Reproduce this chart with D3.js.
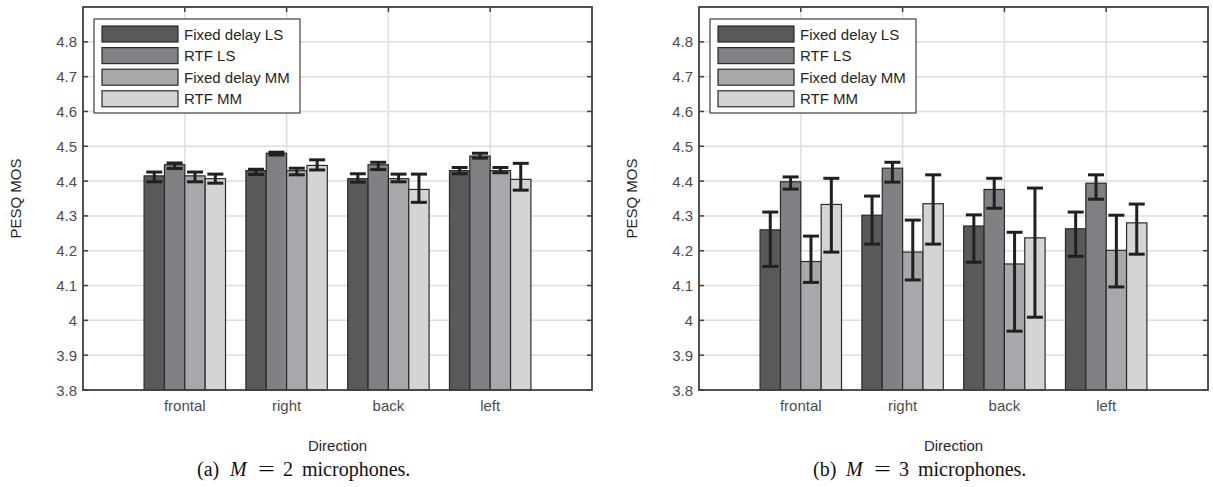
<!DOCTYPE html>
<html lang="en">
<head>
    <meta charset="UTF-8">
    <title>PESQ MOS per direction</title>
    <script src="https://d3js.org/d3.v7.min.js"></script>
    <style>
        body { margin: 0; background: #ffffff; }
        .tick-label { font-family: 'Liberation Sans', Arial, sans-serif; font-size: 15px; fill: #4d4d4d; }
        .axis-title { font-family: 'Liberation Sans', Arial, sans-serif; font-size: 15px; fill: #262626; }
        .legend-text { font-family: 'Liberation Sans', Arial, sans-serif; font-size: 15px; fill: #262626; }
        .caption { font-family: 'Liberation Serif', 'DejaVu Serif', serif; font-size: 20px; fill: #111; }
    </style>
</head>
<body>
<div id="chart"></div>
<script>
    // Data
    const directions = ["frontal", "right", "back", "left"];
    const methods = ["Fixed delay LS", "RTF LS", "Fixed delay MM", "RTF MM"];
    const colors = ["#58595b", "#808184", "#a7a8ab", "#d3d4d6"];
    const yTicks = [3.8, 3.9, 4, 4.1, 4.2, 4.3, 4.4, 4.5, 4.6, 4.7, 4.8];

    // M = 2 microphones: rows = methods, cols = directions
    const meanM2 = [
        [4.415, 4.430, 4.407, 4.430],
        [4.447, 4.480, 4.447, 4.472],
        [4.415, 4.430, 4.407, 4.430],
        [4.407, 4.445, 4.376, 4.405]
    ];
    const lowM2 = [
        [4.398, 4.419, 4.397, 4.421],
        [4.436, 4.475, 4.433, 4.466],
        [4.398, 4.418, 4.398, 4.424],
        [4.394, 4.432, 4.339, 4.374]
    ];
    const highM2 = [
        [4.426, 4.434, 4.421, 4.439],
        [4.452, 4.483, 4.454, 4.480],
        [4.426, 4.437, 4.420, 4.439],
        [4.420, 4.461, 4.420, 4.451]
    ];

    // M = 3 microphones
    const meanM3 = [
        [4.260, 4.302, 4.271, 4.263],
        [4.398, 4.437, 4.376, 4.394],
        [4.169, 4.196, 4.162, 4.201],
        [4.333, 4.335, 4.237, 4.280]
    ];
    const lowM3 = [
        [4.155, 4.219, 4.167, 4.184],
        [4.377, 4.397, 4.322, 4.348],
        [4.109, 4.116, 3.969, 4.096],
        [4.196, 4.219, 4.009, 4.190]
    ];
    const highM3 = [
        [4.311, 4.357, 4.303, 4.311],
        [4.412, 4.454, 4.408, 4.418],
        [4.242, 4.288, 4.253, 4.302],
        [4.408, 4.418, 4.380, 4.334]
    ];

    const W = 1213, H = 487;
    const svg = d3.select("#chart").append("svg")
        .attr("width", W)
        .attr("height", H);

    const plotW = 509, plotTop = 7, plotBottom = 390;

    function drawPanel(left, mean, low, high, label, nMics) {
        const g = svg.append("g").attr("transform", `translate(${left},0)`);

        const x = d3.scaleLinear().domain([0, 5]).range([0, plotW]);
        const y = d3.scaleLinear().domain([3.8, 4.9]).range([plotBottom, plotTop]);
        const barW = x(0.2) - x(0);

        // grid
        g.selectAll(".hgrid").data(yTicks.slice(1)).enter().append("line")
            .attr("x1", 0).attr("x2", plotW)
            .attr("y1", d => y(d)).attr("y2", d => y(d))
            .attr("stroke", "#dedede").attr("stroke-width", 1.5);
        g.selectAll(".vgrid").data(directions).enter().append("line")
            .attr("x1", (d, i) => x(i + 1)).attr("x2", (d, i) => x(i + 1))
            .attr("y1", plotTop).attr("y2", plotBottom)
            .attr("stroke", "#dedede").attr("stroke-width", 1.5);

        // bars
        methods.forEach((m, k) => {
            g.selectAll(".bar" + k).data(directions).enter().append("rect")
                .attr("x", (d, i) => x(i + 1 - 0.4 + 0.2 * k))
                .attr("y", (d, i) => y(mean[k][i]))
                .attr("width", barW)
                .attr("height", (d, i) => y(3.8) - y(mean[k][i]))
                .attr("fill", colors[k])
                .attr("stroke", "#2b2b2b")
                .attr("stroke-width", 1.2);
        });

        // error bars
        methods.forEach((m, k) => {
            directions.forEach((d, i) => {
                const cx = x(i + 1 - 0.3 + 0.2 * k);
                const eg = g.append("g").attr("stroke", "#231f20").attr("stroke-width", 3);
                eg.append("line").attr("x1", cx).attr("x2", cx)
                    .attr("y1", y(low[k][i])).attr("y2", y(high[k][i]));
                [low[k][i], high[k][i]].forEach(v => {
                    eg.append("line").attr("x1", cx - 8).attr("x2", cx + 8)
                        .attr("y1", y(v)).attr("y2", y(v));
                });
            });
        });

        // axes box
        g.append("rect").attr("x", 0).attr("y", plotTop)
            .attr("width", plotW).attr("height", plotBottom - plotTop)
            .attr("fill", "none").attr("stroke", "#404040").attr("stroke-width", 1.8);

        // y ticks (left and right, inward)
        yTicks.forEach(t => {
            g.append("line").attr("x1", 0).attr("x2", 5)
                .attr("y1", y(t)).attr("y2", y(t)).attr("stroke", "#404040").attr("stroke-width", 1.5);
            g.append("line").attr("x1", plotW).attr("x2", plotW - 5)
                .attr("y1", y(t)).attr("y2", y(t)).attr("stroke", "#404040").attr("stroke-width", 1.5);
            g.append("text").attr("class", "tick-label")
                .attr("x", -6).attr("y", y(t) + 5.5)
                .attr("text-anchor", "end")
                .text(d3.format("")(t));
        });

        // x ticks (top and bottom)
        directions.forEach((d, i) => {
            g.append("line").attr("x1", x(i + 1)).attr("x2", x(i + 1))
                .attr("y1", plotTop).attr("y2", plotTop + 5).attr("stroke", "#404040").attr("stroke-width", 1.5);
            g.append("text").attr("class", "tick-label")
                .attr("x", x(i + 1)).attr("y", 410.5)
                .attr("text-anchor", "middle")
                .text(d);
        });

        // axis titles
        g.append("text").attr("class", "axis-title")
            .attr("transform", `translate(${-62},${y(4.35)}) rotate(-90)`)
            .attr("text-anchor", "middle")
            .text("PESQ MOS");
        g.append("text").attr("class", "axis-title")
            .attr("x", plotW / 2).attr("y", 451)
            .attr("text-anchor", "middle")
            .text("Direction");

        // legend
        const lg = g.append("g").attr("transform", "translate(11,19)");
        lg.append("rect").attr("width", 206).attr("height", 94)
            .attr("fill", "#ffffff").attr("stroke", "#404040").attr("stroke-width", 1.2);
        methods.forEach((m, k) => {
            lg.append("rect").attr("x", 8).attr("y", 7 + 21.6 * k)
                .attr("width", 76).attr("height", 16)
                .attr("fill", colors[k]).attr("stroke", "#2b2b2b").attr("stroke-width", 1.2);
            lg.append("text").attr("class", "legend-text")
                .attr("x", 90).attr("y", 20.5 + 21.6 * k)
                .text(m);
        });

        // caption, LaTeX-like spacing
        const cx0 = 114, cy = 476;
        const cap = g.append("g").attr("class", "caption");
        cap.append("text").attr("class", "caption").attr("x", cx0).attr("y", cy).text(label);
        cap.append("text").attr("class", "caption").attr("x", cx0 + 33).attr("y", cy)
            .attr("font-style", "italic").text("M");
        cap.append("text").attr("class", "caption").attr("x", cx0 + 69.5).attr("y", cy)
            .attr("text-anchor", "middle").attr("transform", `translate(${cx0 + 69.5},${cy}) scale(1.5,1) translate(${-(cx0 + 69.5)},${-cy})`)
            .text("=");
        cap.append("text").attr("class", "caption").attr("x", cx0 + 86).attr("y", cy).text(nMics);
        cap.append("text").attr("class", "caption").attr("x", cx0 + 105).attr("y", cy).text("microphones.");
    }

    drawPanel(83, meanM2, lowM2, highM2, "(a)", "2");
    drawPanel(699, meanM3, lowM3, highM3, "(b)", "3");
</script>
</body>
</html>
